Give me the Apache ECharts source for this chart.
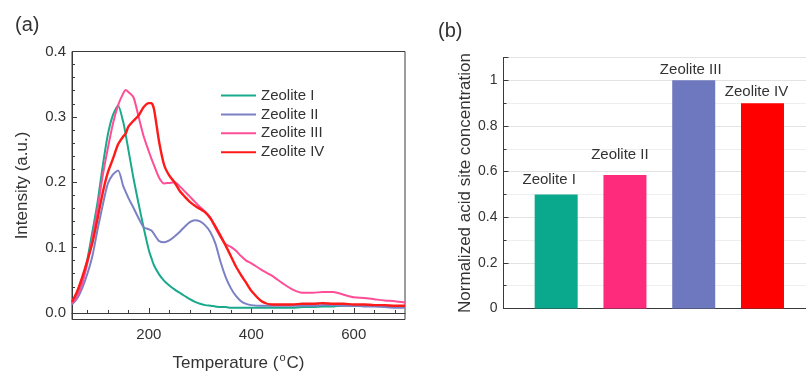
<!DOCTYPE html>
<html>
<head>
<meta charset="utf-8">
<title>Zeolite TPD</title>
<script src="https://cdn.jsdelivr.net/npm/echarts@6/dist/echarts.min.js"></script>
<style>
  html, body { margin: 0; padding: 0; background: #fff; }
  #chart { width: 806px; height: 371px; }
</style>
</head>
<body>
<div id="chart"></div>
<script>
// (a) NH3-TPD curves, temperature in °C
const temps = [50, 60, 70, 80, 90, 100, 110, 120, 130, 140, 150, 155, 160, 170, 180, 190, 200, 205, 210, 220,
  230, 240, 250, 260, 270, 280, 290, 300, 310, 320, 330, 340, 350, 360, 370, 380, 390, 400, 420, 440,
  460, 480, 500, 520, 540, 560, 580, 600, 620, 640, 660, 680, 700]
const zeolite1 = [0.016, 0.026, 0.048, 0.082, 0.125, 0.170, 0.225, 0.273, 0.303, 0.317, 0.292, 0.272, 0.250, 0.206, 0.167, 0.130, 0.096, 0.084, 0.073, 0.059,
  0.049, 0.042, 0.036, 0.031, 0.026, 0.021, 0.017, 0.014, 0.012, 0.011, 0.010, 0.009, 0.009, 0.008, 0.008, 0.008, 0.008, 0.008, 0.008, 0.008,
  0.008, 0.008, 0.009, 0.009, 0.010, 0.010, 0.011, 0.011, 0.011, 0.011, 0.010, 0.010, 0.009]
const zeolite2 = [0.013, 0.022, 0.038, 0.060, 0.088, 0.128, 0.165, 0.198, 0.212, 0.218, 0.194, 0.185, 0.176, 0.161, 0.145, 0.131, 0.128, 0.126, 0.121, 0.110,
  0.108, 0.111, 0.117, 0.124, 0.132, 0.139, 0.142, 0.140, 0.134, 0.124, 0.106, 0.078, 0.055, 0.038, 0.026, 0.018, 0.014, 0.012, 0.011, 0.011,
  0.011, 0.011, 0.011, 0.011, 0.012, 0.012, 0.011, 0.011, 0.010, 0.010, 0.009, 0.008, 0.008]
const zeolite3 = [0.015, 0.025, 0.045, 0.076, 0.115, 0.160, 0.210, 0.252, 0.290, 0.318, 0.336, 0.341, 0.338, 0.330, 0.300, 0.270, 0.247, 0.236, 0.226, 0.207,
  0.198, 0.199, 0.200, 0.194, 0.186, 0.178, 0.170, 0.162, 0.155, 0.146, 0.130, 0.116, 0.105, 0.101, 0.095, 0.087, 0.080, 0.076, 0.066, 0.057,
  0.046, 0.036, 0.031, 0.031, 0.032, 0.032, 0.028, 0.024, 0.023, 0.021, 0.019, 0.018, 0.016]
const zeolite4 = [0.017, 0.033, 0.055, 0.080, 0.108, 0.145, 0.184, 0.215, 0.236, 0.258, 0.270, 0.275, 0.285, 0.294, 0.302, 0.315, 0.321, 0.321, 0.312, 0.262,
  0.226, 0.210, 0.200, 0.187, 0.178, 0.170, 0.164, 0.159, 0.154, 0.145, 0.132, 0.118, 0.103, 0.087, 0.071, 0.058, 0.046, 0.034, 0.018, 0.013,
  0.013, 0.013, 0.014, 0.014, 0.015, 0.014, 0.014, 0.013, 0.013, 0.012, 0.012, 0.011, 0.011]
const seriesNames = ['Zeolite I', 'Zeolite II', 'Zeolite III', 'Zeolite IV']
const seriesValues = [zeolite1, zeolite2, zeolite3, zeolite4]
const xMajorTicks = [200, 400, 600]
const xMinorTicks = [80, 120, 160, 240, 280, 320, 360, 440, 480, 520, 560, 640, 680]
const yMajorTicks = [0, 0.1, 0.2, 0.3, 0.4]
const yMinorTicks = [0.02, 0.04, 0.06, 0.08, 0.12, 0.14, 0.16, 0.18, 0.22, 0.24, 0.26, 0.28, 0.32, 0.34, 0.36, 0.38]

// (b) normalized acid site concentration
const barCategories = ['Zeolite I', 'Zeolite II', 'Zeolite III', 'Zeolite IV']
const barPositions = [1, 2, 3, 4]
const barValues = [0.5, 0.585, 1.0, 0.9]

// styles
const lineColors = ['#1aa98b', '#7c80c4', '#ff4d96', '#ff1a1a']
const lineWidths = [2, 2, 2, 2.4]
const barColors = ['#0aa98e', '#fe2a7c', '#6e78bf', '#ff0000']
const labelDistances = [7, 13, 3, 4]
const labelShifts = [-7, -5, -3, -6]

const FONT = 'Liberation Sans, Arial, Helvetica, sans-serif'
const TXT = '#333'
const AXIS = '#3a3a3a'

const chart = echarts.init(document.getElementById('chart'), null, { renderer: 'canvas' })

const option = {
  animation: false,
  textStyle: { fontFamily: FONT, color: TXT },
  title: [
    { text: '(a)', left: 10, top: 10, textStyle: { fontSize: 20, fontWeight: 'normal', color: TXT, fontFamily: FONT } },
    { text: '(b)', left: 433, top: 16, textStyle: { fontSize: 20, fontWeight: 'normal', color: TXT, fontFamily: FONT } }
  ],
  legend: {
    data: seriesNames,
    orient: 'vertical',
    left: 216,
    top: 83,
    itemWidth: 35,
    itemHeight: 14,
    itemGap: 3.9,
    icon: 'path://M0,6 L35,6 L35,8 L0,8 Z',
    textStyle: { fontSize: 15, color: TXT, fontFamily: FONT }
  },
  grid: [
    // outerBoundsMode 'none' keeps v6 from shrinking the plot to fit the axis names
    { left: 72, top: 51.5, width: 333, height: 268, show: true, borderColor: AXIS, borderWidth: 1, containLabel: false, outerBoundsMode: 'none' },
    { left: 503.5, top: 57.5, right: -6, bottom: 62.5, show: true, borderColor: AXIS, borderWidth: 1, containLabel: false, outerBoundsMode: 'none' }
  ],
  xAxis: [
    {
      gridIndex: 0, type: 'value', min: 50, max: 700,
      axisLine: { show: true, lineStyle: { color: AXIS, width: 1 } },
      axisTick: { show: true, inside: true, length: 5, customValues: xMajorTicks, lineStyle: { color: AXIS } },
      axisLabel: { customValues: xMajorTicks, fontSize: 15, color: TXT, margin: 8 },
      splitLine: { show: false },
      name: '{n|Temperature (}{s|o}{n|C)}',
      nameLocation: 'middle',
      nameGap: 33,
      nameTextStyle: {
        fontSize: 17, color: TXT, fontFamily: FONT,
        rich: {
          n: { fontSize: 17, color: TXT, fontFamily: FONT, verticalAlign: 'bottom' },
          s: { fontSize: 11, color: TXT, fontFamily: FONT, verticalAlign: 'bottom', padding: [0, 1, 8, 1] }
        }
      }
    },
    {
      gridIndex: 0, type: 'value', min: 50, max: 700, position: 'bottom',
      axisLine: { show: false },
      axisTick: { show: true, inside: true, length: 3, customValues: xMinorTicks, lineStyle: { color: AXIS } },
      axisLabel: { show: false },
      splitLine: { show: false }
    },
    {
      gridIndex: 1, type: 'value', min: 0.234, max: 4.72,
      axisLine: { show: true, lineStyle: { color: AXIS, width: 1 } },
      axisTick: { show: false },
      axisLabel: { show: false },
      splitLine: { show: false }
    }
  ],
  yAxis: [
    {
      gridIndex: 0, type: 'value', min: -0.01, max: 0.4,
      axisLine: { show: true, lineStyle: { color: AXIS, width: 1 } },
      axisTick: { show: true, inside: true, length: 5, customValues: yMajorTicks, lineStyle: { color: AXIS } },
      axisLabel: { customValues: yMajorTicks, fontSize: 15, color: TXT, margin: 6, formatter: v => v.toFixed(1) },
      splitLine: { show: false },
      name: 'Intensity (a.u.)',
      nameLocation: 'middle',
      nameRotate: 90,
      nameGap: 41,
      nameTextStyle: { fontSize: 17, color: TXT, fontFamily: FONT }
    },
    {
      gridIndex: 0, type: 'value', min: -0.01, max: 0.4, position: 'left',
      axisLine: { show: false },
      axisTick: { show: true, inside: true, length: 3, customValues: yMinorTicks, lineStyle: { color: AXIS } },
      axisLabel: { show: false },
      splitLine: { show: false }
    },
    {
      gridIndex: 1, type: 'value', min: 0, max: 1.1, interval: 0.2,
      axisLine: { show: true, lineStyle: { color: AXIS, width: 1 } },
      axisTick: { show: true, inside: true, length: 5, lineStyle: { color: AXIS } },
      minorTick: { show: true, splitNumber: 2, length: 3, lineStyle: { color: AXIS } },
      axisLabel: { fontSize: 14, color: TXT, margin: 6, showMaxLabel: false, formatter: v => String(+v.toFixed(1)) },
      splitLine: { show: true, lineStyle: { color: '#e3e3e3', width: 1 } },
      minorSplitLine: { show: true, lineStyle: { color: '#eeeeee', width: 1 } },
      name: 'Normalized acid site concentration',
      nameLocation: 'middle',
      nameRotate: 90,
      nameGap: 28,
      nameTextStyle: { fontSize: 17, color: TXT, fontFamily: FONT }
    }
  ],
  series: [
    ...seriesNames.map((name, k) => ({
      name,
      type: 'line',
      xAxisIndex: 0,
      yAxisIndex: 0,
      data: temps.map((t, i) => [t, seriesValues[k][i]]),
      showSymbol: false,
      symbol: 'none',
      smooth: 0.25,
      clip: true,
      itemStyle: { color: lineColors[k] },
      lineStyle: { color: lineColors[k], width: lineWidths[k] }
    })),
    {
      name: 'acid sites',
      type: 'bar',
      xAxisIndex: 2,
      yAxisIndex: 2,
      barWidth: 43,
      data: barPositions.map((x, i) => ({
        value: [x, barValues[i]],
        name: barCategories[i],
        itemStyle: { color: barColors[i] },
        label: { distance: labelDistances[i], offset: [labelShifts[i], 0] }
      })),
      label: {
        show: true,
        position: 'top',
        formatter: p => p.name,
        fontSize: 15,
        color: TXT,
        fontFamily: FONT
      }
    }
  ]
}

chart.setOption(option)
</script>
</body>
</html>
